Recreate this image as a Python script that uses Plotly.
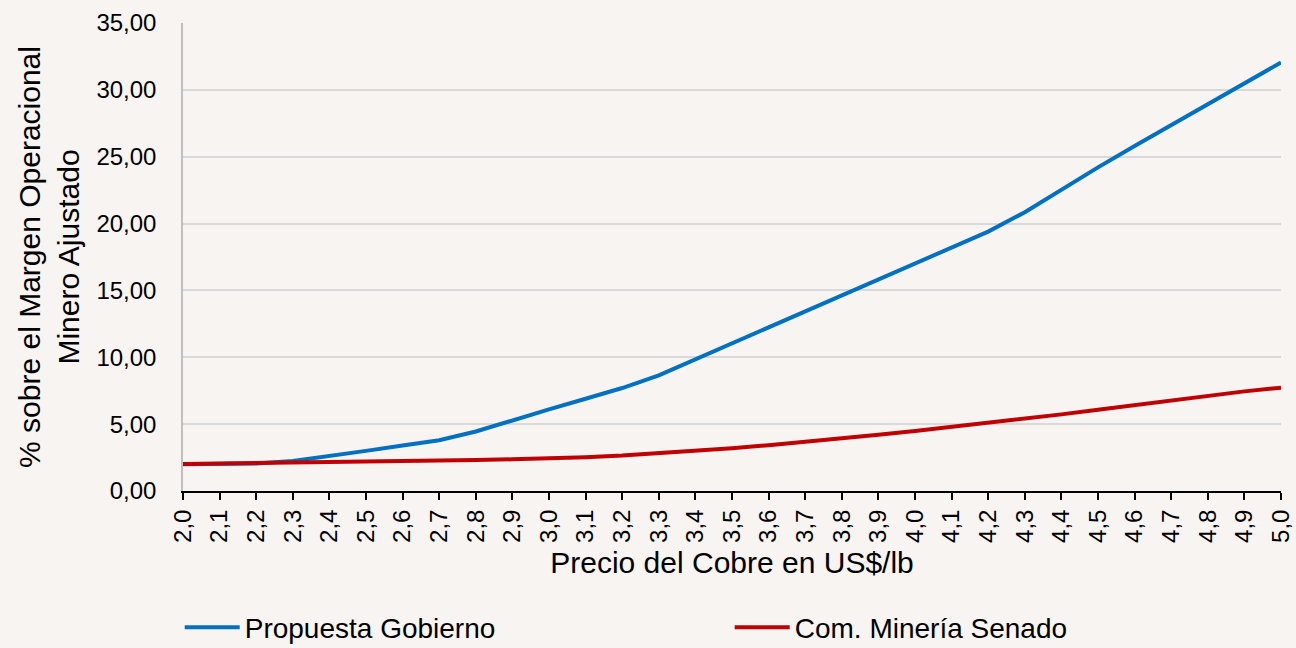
import plotly.graph_objects as go

precio = [2.0, 2.1, 2.2, 2.3, 2.4, 2.5, 2.6, 2.7, 2.8, 2.9,
          3.0, 3.1, 3.2, 3.3, 3.4, 3.5, 3.6, 3.7, 3.8, 3.9,
          4.0, 4.1, 4.2, 4.3, 4.4, 4.5, 4.6, 4.7, 4.8, 4.9, 5.0]

propuesta_gobierno = [2.0, 2.02, 2.05, 2.25, 2.6, 3.0, 3.4, 3.8, 4.45, 5.3,
                      6.1, 6.9, 7.7, 8.65, 9.85, 11.05, 12.25, 13.45, 14.65, 15.8,
                      17.0, 18.2, 19.4, 20.85, 22.55, 24.2, 25.8, 27.35, 28.9, 30.5, 32.05]

com_mineria_senado = [2.02, 2.05, 2.08, 2.1, 2.13, 2.17, 2.22, 2.27, 2.32, 2.37,
                      2.43, 2.53, 2.65, 2.82, 3.0, 3.2, 3.43, 3.67, 3.93, 4.2,
                      4.48, 4.78, 5.08, 5.4, 5.73, 6.07, 6.42, 6.78, 7.15, 7.45, 7.73]

x_ticklabels = [f"{p:.1f}".replace(".", ",") for p in precio]
y_ticks = [0, 5, 10, 15, 20, 25, 30, 35]
y_ticklabels = [f"{v:.2f}".replace(".", ",") for v in y_ticks]

FONT = "Liberation Sans, Arial, sans-serif"
BG = "#f7f4f1"

fig = go.Figure()
fig.add_trace(go.Scatter(x=precio, y=propuesta_gobierno, mode="lines",
                         name="Propuesta Gobierno",
                         line=dict(color="#0070C0", width=4)))
fig.add_trace(go.Scatter(x=precio, y=com_mineria_senado, mode="lines",
                         name="Com. Minería Senado",
                         line=dict(color="#C00000", width=4)))

fig.update_layout(
    width=1296, height=648,
    margin=dict(l=183, r=15, t=23, b=157, autoexpand=False),
    paper_bgcolor=BG, plot_bgcolor=BG,
    font=dict(family=FONT, color="#000000", size=24),
    showlegend=True,
    legend=dict(orientation="h", x=-0.003, xanchor="left", y=-0.292, yanchor="middle",
                font=dict(size=28, family=FONT), entrywidth=480, entrywidthmode="pixels",
                itemwidth=55, bgcolor="rgba(0,0,0,0)", tracegroupgap=0),
)

fig.update_xaxes(
    range=[2.0, 5.0],
    tickmode="array", tickvals=precio, ticktext=x_ticklabels,
    tickangle=-90, tickfont=dict(size=24, family=FONT),
    ticks="outside", ticklen=7, tickcolor="#000000", tickwidth=1.5,
    showline=True, linecolor="#000000", linewidth=2,
    showgrid=False, zeroline=False,
    title=dict(text="Precio del Cobre en US$/lb", font=dict(size=30, family=FONT), standoff=10),
)
fig.update_yaxes(
    range=[0, 35],
    tickmode="array", tickvals=y_ticks, ticktext=y_ticklabels,
    tickfont=dict(size=24, family=FONT), ticklabelstandoff=20,
    ticks="", showline=True, linecolor="#bfbfbf", linewidth=1.5,
    showgrid=True, gridcolor="#d9d9d9", gridwidth=1.5,
    zeroline=False,
    title=dict(text="% sobre el Margen Operacional<br>Minero Ajustado",
               font=dict(size=30, family=FONT), standoff=8),
)

fig.write_html("out.html", config={"displayModeBar": False},
               post_script="document.body.style.margin='0';document.body.style.background='#f7f4f1';")
